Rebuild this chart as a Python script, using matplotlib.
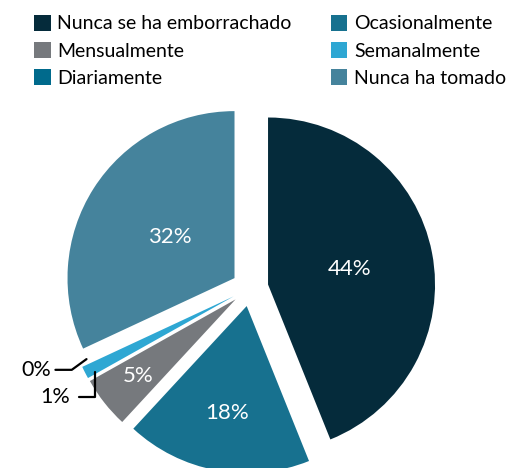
import numpy as np
import matplotlib
matplotlib.use("Agg")
import matplotlib.pyplot as plt
from matplotlib.patches import Patch

plt.rcParams["font.family"] = ["Lato", "DejaVu Sans"]

# 数据（顺时针，从 12 点方向开始）
categories = ["Nunca se ha emborrachado", "Ocasionalmente", "Mensualmente",
              "Semanalmente", "Diariamente", "Nunca ha tomado"]
values = [44, 18, 5, 1.2, 0, 32]
pct_labels = ["44%", "18%", "5%", "1%", "0%", "32%"]
colors = ["#052B3B", "#17718F", "#76797D", "#2EA7D3", "#006A8C", "#45839C"]

# 图内标签到扇形中心的距离（相对半径）
label_dist = [0.5, 0.65, 0.74, None, None, 0.46]

W, H = 510, 468
fig = plt.figure(figsize=(W / 100, H / 100), dpi=100)
ax = fig.add_axes([0, 0, 1, 1])
R = 167.0                  # 像素半径
cx, cy = 250.0, 288.0      # 饼心（像素，y 向下）

explode = [0.11] * len(values)
wedges, _ = ax.pie(values, colors=colors, startangle=90, counterclock=False,
                   explode=explode, radius=1.0, frame=False,
                   wedgeprops=dict(linewidth=0))
ax.set_xlim(-cx / R, (W - cx) / R)
ax.set_ylim(-(H - cy) / R, cy / R)
ax.set_aspect("auto")
ax.axis("off")

for w, lab, d in zip(wedges, pct_labels, label_dist):
    th = np.deg2rad((w.theta1 + w.theta2) / 2)
    ox, oy = w.center
    if d is not None:
        ax.text(ox + d * np.cos(th), oy + d * np.sin(th), lab, color="white",
                fontsize=16, ha="center", va="center")

# 0% 和 1% 的外部标注
w0 = wedges[4]
th0 = np.deg2rad((w0.theta1 + w0.theta2) / 2)
p0 = (w0.center[0] + 0.97 * np.cos(th0), w0.center[1] + 0.97 * np.sin(th0) + 0.03)
ax.annotate("0%", xy=p0, xytext=(-1.19, -0.49), fontsize=15.5, color="black",
            ha="right", va="center",
            arrowprops=dict(arrowstyle="-", color="black", lw=1.6,
                            shrinkA=1, shrinkB=0, relpos=(1, 0.5),
                            connectionstyle="angle,angleA=0,angleB=36,rad=0"))
w1 = wedges[3]
th1 = np.deg2rad((w1.theta1 + w1.theta2) / 2)
p1 = (w1.center[0] + 0.93 * np.cos(th1), w1.center[1] + 0.93 * np.sin(th1) - 0.03)
ax.annotate("1%", xy=p1, xytext=(-1.08, -0.655), fontsize=15.5, color="black",
            ha="right", va="center",
            arrowprops=dict(arrowstyle="-", color="black", lw=1.6,
                            shrinkA=5, shrinkB=0, relpos=(1, 0.5),
                            connectionstyle="angle,angleA=0,angleB=90,rad=0"))

# 图例：两列，按行排列
handles = [Patch(facecolor=c, edgecolor="none") for c in colors]
order = [0, 2, 4, 1, 3, 5]
fig.legend([handles[i] for i in order], [categories[i] for i in order],
           ncol=2, loc="upper left", bbox_to_anchor=(34 / W, 1 - 15 / H),
           frameon=False, fontsize=14, handlelength=0.85, handleheight=0.85,
           handletextpad=0.35, columnspacing=2.0, labelspacing=0.5,
           borderpad=0, borderaxespad=0)

plt.savefig("out.png", dpi=100)
